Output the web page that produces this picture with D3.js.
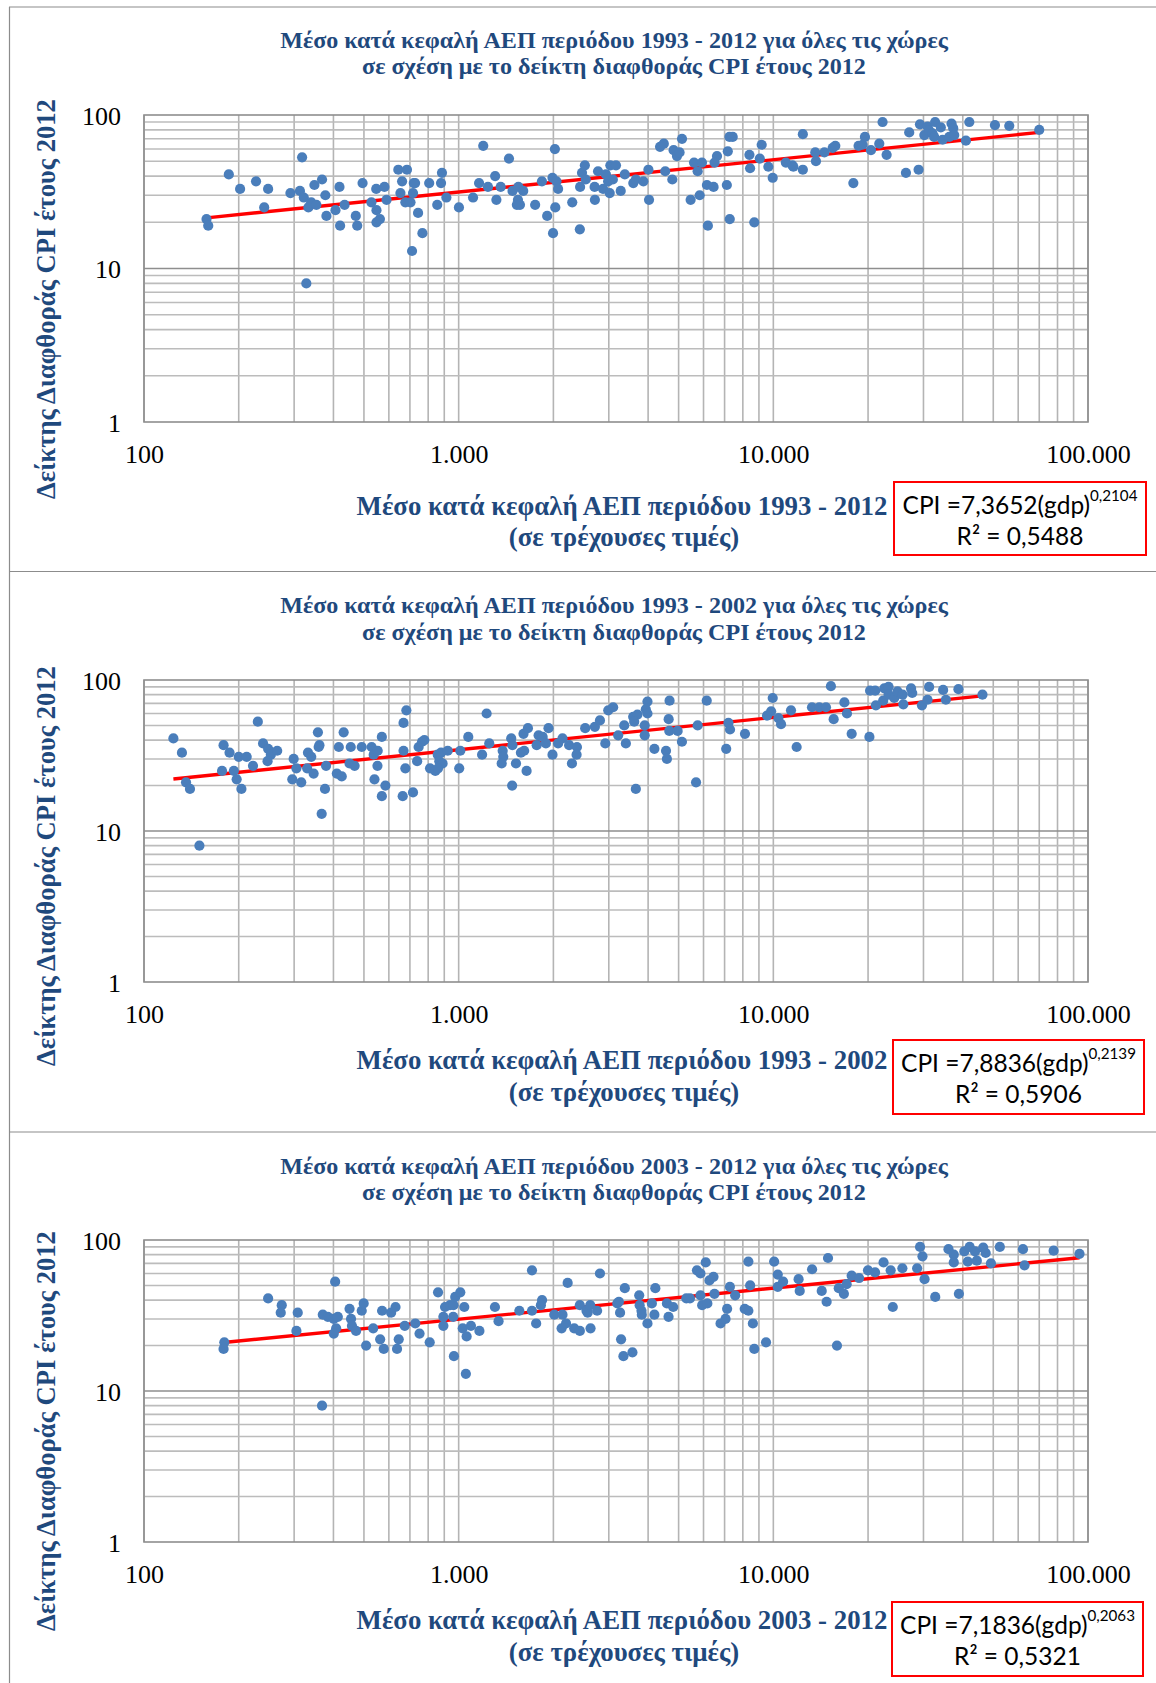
<!DOCTYPE html>
<html><head><meta charset="utf-8">
<script src="https://cdn.jsdelivr.net/npm/d3@7"></script>
<style>body{margin:0;background:#fff}svg{display:block}</style>
</head><body>
<svg id="c" width="1156" height="1683"></svg>
<script>
// ---------- DATA ----------
const gdp_1993_2012 = [158,160,186,202,227,248,241,292,313,318,322,333,340,348,353,368,377,328,380,406,418,420,434,471,476,495,528,547,548,548,562,581,590,643,685,661,653,677,703,720,727,716,711,743,767,806,855,879,885,914,1002,1111,1161,1197,1239,1306,1318,1360,1445,1483,1548,1543,1531,1566,1604,1750,1839,1911,1987,2022,2046,2070,2028,1995,2296,2427,2432,2466,2518,2535,2704,2710,2773,2877,2938,2985,3020,3034,3162,3090,3273,3373,3589,3656,3864,4009,4027,4365,4487,4534,4775,4820,4940,5035,5126,5460,5598,5834,5747,5932,6151,6194,6457,6622,6506,7116,7166,7254,7430,7270,8395,8435,8700,9057,9183,9643,9955,10960,11500,11580,12410,12410,13590,13660,14530,15440,15740,17960,18660,19220,19550,20430,21710,22240,22910,26390,27030,28950,29240,30190,30920,31280,32060,32670,32450,34060,34510,36230,36840,37300,37580,40930,41960,50610,56210,69980];
const cpi_1993_2012 = [21,19,41,33,37,33,25,31,32,53,29,25,27,35,26,38,30,8,22,24,34,19,26,22,19,36,27,33,24,20,21,34,28,44,44,37,31,27,27,36,36,31,13,23,17,36,26,36,42,29,25,29,36,63,34,40,28,34,52,32,34,28,26,26,32,26,37,22,39,60,37,33,25,17,27,18,34,42,47,38,34,28,43,33,41,37,31,47,47,38,32,41,36,38,37,44,28,62,65,43,38,59,54,57,70,28,49,30,43,49,35,19,34,54,49,35,58,72,72,21,55,45,20,52,64,46,39,49,47,46,44,75,57,50,57,61,63,36,63,64,72,59,65,90,55,42,77,44,87,74,84,79,76,90,72,83,69,72,88,82,74,68,90,86,85,80];

const gdp_1993_2002 = [124,132,136,140,150,179,187,177,193,197,204,200,212,222,230,239,248,253,247,265,299,305,296,316,332,340,330,346,357,361,359,376,379,367,410,425,416,431,450,467,454,492,529,537,553,552,540,570,570,585,664,668,682,668,677,716,738,746,765,778,811,843,858,879,868,889,860,923,1004,1012,1073,1187,1227,1251,1380,1386,1370,1469,1482,1479,1521,1577,1615,1607,1660,1644,1770,1795,1849,1893,1930,1987,2070,2138,2244,2291,2376,2370,2524,2709,2812,2924,2988,3097,3213,3358,3399,3586,3700,3656,3902,3902,3933,3981,3981,3613,4188,4560,4590,4649,4670,4680,4964,5123,5681,5748,6142,7083,7200,7284,8127,9550,9840,9955,10380,10580,11380,11860,13270,14000,14700,15240,15550,16820,17140,17740,20200,20300,21070,21180,22340,22530,23240,23240,24220,24810,25750,25890,27400,27630,29670,30910,31270,34640,35340,38750,46200];
const cpi_1993_2002 = [41,33,21,19,8,37,33,25,25,22,19,31,31,27,53,38,35,32,29,34,30,26,22,21,33,31,26,24,45,37,36,19,27,13,24,23,36,45,28,27,36,36,36,32,34,27,22,42,17,20,17,52,63,34,26,18,29,36,39,40,26,25,32,33,29,28,26,34,26,34,42,32,60,38,34,31,28,41,37,20,28,33,34,44,48,25,37,43,42,38,48,32,38,41,37,28,36,32,48,49,54,38,63,66,43,50,38,57,59,19,43,50,64,72,60,53,35,34,30,55,46,73,46,39,21,50,73,35,52,47,44,58,62,76,56,51,63,36,66,66,66,91,55,71,60,44,42,85,85,68,73,88,90,80,76,84,80,69,88,82,68,74,90,86,74,87,80];

const gdp_2003_2012 = [180,179,248,274,272,308,305,368,370,384,405,401,413,408,401,450,455,458,472,492,499,508,535,563,578,571,610,630,645,637,674,728,751,809,860,894,894,905,939,961,963,975,1012,966,1042,1030,1060,1054,1094,1164,1304,1339,1559,1710,1710,1763,1841,1825,2013,2124,2138,2194,2220,2329,2427,2427,2548,2570,2619,2625,2754,2812,3193,3230,3258,3282,3339,3373,3566,3748,3760,3811,3820,3981,4111,4217,4188,4590,4645,4806,5291,5433,5718,5866,6098,5866,5940,6170,6265,6454,6500,6796,7048,7130,7278,7564,8110,8330,8330,8440,8610,8700,9480,10060,10330,10330,10740,12030,12130,13280,14250,14770,14920,15930,16140,16760,17100,17740,18730,19990,21050,22400,23600,23970,25710,28640,29260,29780,30240,32700,36030,37450,37450,38880,40450,42070,41500,43740,44330,46450,47300,49150,52460,62130,62850,77760,93970];
const cpi_2003_2012 = [21,19,41,37,33,33,25,8,32,31,53,30,31,26,24,35,30,27,25,34,38,20,26,22,19,34,33,36,22,19,27,28,24,21,45,31,27,36,37,31,37,42,45,17,36,26,23,13,27,25,36,29,34,63,34,28,40,37,32,26,32,28,52,26,25,37,34,33,37,26,34,60,38,39,33,22,17,48,18,43,37,34,32,28,38,48,32,38,31,36,41,41,63,60,71,43,37,38,54,57,44,28,30,35,49,43,35,34,72,50,28,19,21,72,59,49,53,55,46,64,46,39,76,20,48,44,51,58,56,63,61,71,63,36,65,65,90,78,55,42,87,80,71,44,84,90,72,84,73,89,82,70,90,87,68,85,81];

const periods = ["1993 - 2012", "1993 - 2002", "2003 - 2012"];
const eqA = [7.3652, 7.8836, 7.1836];
const eqB = [0.2104, 0.2139, 0.2063];
const eqR2 = [0.5488, 0.5906, 0.5321];
const xTickValues = [100, 1000, 10000, 100000];
const yTickValues = [1, 10, 100];
const yAxisTitle = "Δείκτης Διαφθοράς CPI έτους 2012";
const titleLine2 = "σε σχέση με το δείκτη διαφθοράς CPI έτους 2012";
const xTitleLine2 = "(σε τρέχουσες τιμές)";

const seriesX = [gdp_1993_2012, gdp_1993_2002, gdp_2003_2012];
const seriesY = [cpi_1993_2012, cpi_1993_2002, cpi_2003_2012];

// ---------- LAYOUT ----------
const layout = [
  {top:115, bottom:422, tY:[48,74], xtY:[515,546], ytC:299, box:[894,482,252,73]},
  {top:680, bottom:982, tY:[613,640], xtY:[1069,1101], ytC:866, box:[893,1040,251,74]},
  {top:1240, bottom:1542, tY:[1174,1200], xtY:[1629,1661], ytC:1431, box:[892,1602,251,74]}
];
const plotL = 144, plotR = 1088;
const navy = "#1F497D";
const serif = "'Liberation Serif','Times New Roman',serif";
const sans = "Lato,'Open Sans',sans-serif";

const loc = d3.formatLocale({decimal:",", thousands:".", grouping:[3], currency:["","€"]});
const fmtX = loc.format(",d");
const fmt4 = loc.format(".4f");

const svg = d3.select("#c");
svg.append("rect").attr("width",1156).attr("height",1683).attr("fill","#fff");

function fit(sel, target){
  const w = sel.node().getComputedTextLength();
  const fs = parseFloat(sel.attr("font-size"));
  const n = fs*target/w;
  sel.attr("font-size", n);
  return n;
}

// frame
const frame = svg.append("g").attr("stroke","#8C8C8C").attr("stroke-width",1.2).attr("fill","none");
frame.append("line").attr("x1",9.5).attr("x2",9.5).attr("y1",7).attr("y2",1683);
[7, 571.5, 1132].forEach(y=>frame.append("line").attr("x1",9).attr("x2",1156).attr("y1",y).attr("y2",y));

layout.forEach((L,i)=>{
  const g = svg.append("g");
  const x = d3.scaleLog().domain([100,100000]).range([plotL,plotR]);
  const y = d3.scaleLog().domain([1,100]).range([L.bottom,L.top]);

  // gridlines
  const xg = [];
  [100,1000,10000].forEach(d=>{for(let k=1;k<10;k++) xg.push(d*k);});
  xg.push(100000);
  const yg = [];
  [1,10].forEach(d=>{for(let k=1;k<10;k++) yg.push(d*k);});
  yg.push(100);

  g.append("g").selectAll("line").data(xg).join("line")
    .attr("x1",d=>x(d)).attr("x2",d=>x(d)).attr("y1",L.top).attr("y2",L.bottom)
    .attr("stroke","#B4B4B4").attr("stroke-width",1.6);
  g.append("g").selectAll("line").data(yg.filter(d=>d!==10&&d!==1&&d!==100)).join("line")
    .attr("x1",plotL).attr("x2",plotR).attr("y1",d=>y(d)).attr("y2",d=>y(d))
    .attr("stroke","#BCBCBC").attr("stroke-width",1.6);
  g.append("g").selectAll("line").data([10]).join("line")
    .attr("x1",plotL).attr("x2",plotR).attr("y1",d=>y(d)).attr("y2",d=>y(d))
    .attr("stroke","#8E8E8E").attr("stroke-width",1.6);
  g.append("rect").attr("x",plotL).attr("y",L.top).attr("width",plotR-plotL).attr("height",L.bottom-L.top)
    .attr("fill","none").attr("stroke","#8E8E8E").attr("stroke-width",1.6);

  // axes labels
  const xa = d3.axisBottom(x).tickValues(xTickValues).tickFormat(fmtX).tickSize(0).tickPadding(0);
  const xAxisG = g.append("g").attr("transform",`translate(0,${L.bottom})`).call(xa);
  xAxisG.select(".domain").remove();
  xAxisG.selectAll("text").attr("y",41).attr("dy",null)
    .attr("font-family",serif).attr("font-size",26).attr("fill","#000");

  const ya = d3.axisLeft(y).tickValues(yTickValues).tickFormat(d3.format("d")).tickSize(0).tickPadding(0);
  const yAxisG = g.append("g").attr("transform",`translate(121,0)`).call(ya);
  yAxisG.select(".domain").remove();
  yAxisG.selectAll("text").attr("x",0).attr("dy","0.36em")
    .attr("font-family",serif).attr("font-size",26).attr("fill","#000");

  // trend line
  const xs = seriesX[i], ys = seriesY[i];
  const ext = d3.extent(xs);
  const trend = ext.map(v=>[v, eqA[i]*Math.pow(v,eqB[i])]);
  g.append("path").datum(trend)
    .attr("d", d3.line().x(d=>x(d[0])).y(d=>y(d[1])))
    .attr("stroke","#FF0000").attr("stroke-width",3.4).attr("fill","none");

  // points
  g.append("g").selectAll("circle").data(xs.map((v,j)=>[v,ys[j]])).join("circle")
    .attr("cx",d=>x(d[0])).attr("cy",d=>y(d[1])).attr("r",5.1).attr("fill","#4A7EBB");

  // titles
  const t1 = g.append("text").attr("x",614).attr("y",L.tY[0]).attr("text-anchor","middle")
    .attr("font-family",serif).attr("font-weight","bold").attr("font-size",22).attr("fill",navy)
    .text(`Μέσο κατά κεφαλή ΑΕΠ περιόδου ${periods[i]} για όλες τις χώρες`);
  const tfs = fit(t1, 668);
  g.append("text").attr("x",614).attr("y",L.tY[1]).attr("text-anchor","middle")
    .attr("font-family",serif).attr("font-weight","bold").attr("font-size",tfs).attr("fill",navy)
    .text(titleLine2);

  // x title
  const xt1 = g.append("text").attr("x",622).attr("y",L.xtY[0]).attr("text-anchor","middle")
    .attr("font-family",serif).attr("font-weight","bold").attr("font-size",24).attr("fill",navy)
    .text(`Μέσο κατά κεφαλή ΑΕΠ περιόδου ${periods[i]}`);
  const xfs = fit(xt1, 531);
  g.append("text").attr("x",624).attr("y",L.xtY[1]).attr("text-anchor","middle")
    .attr("font-family",serif).attr("font-weight","bold").attr("font-size",xfs).attr("fill",navy)
    .text(xTitleLine2);

  // y title
  const yt = g.append("text").attr("transform",`translate(55,${L.ytC}) rotate(-90)`).attr("text-anchor","middle")
    .attr("font-family",serif).attr("font-weight","bold").attr("font-size",24).attr("fill",navy)
    .text(yAxisTitle);
  fit(yt, 400);

  // equation box
  const [bx,by,bw,bh] = L.box;
  g.append("rect").attr("x",bx).attr("y",by).attr("width",bw).attr("height",bh)
    .attr("fill","#fff").attr("stroke","#FF0000").attr("stroke-width",2);
  const e1 = g.append("text").attr("x",bx+bw/2).attr("y",by+32).attr("text-anchor","middle")
    .attr("font-family",sans).attr("font-size",22).attr("fill","#000");
  e1.append("tspan").text(`CPI =${fmt4(eqA[i])}(gdp)`);
  e1.append("tspan").attr("font-size","0.62em").attr("dy","-0.85em").text(fmt4(eqB[i]));
  const efs = fit(e1, 235);
  g.append("text").attr("x",bx+bw/2).attr("y",by+63).attr("text-anchor","middle")
    .attr("font-family",sans).attr("font-size",efs).attr("fill","#000")
    .text(`R² = ${fmt4(eqR2[i])}`);
});
</script>
</body></html>
